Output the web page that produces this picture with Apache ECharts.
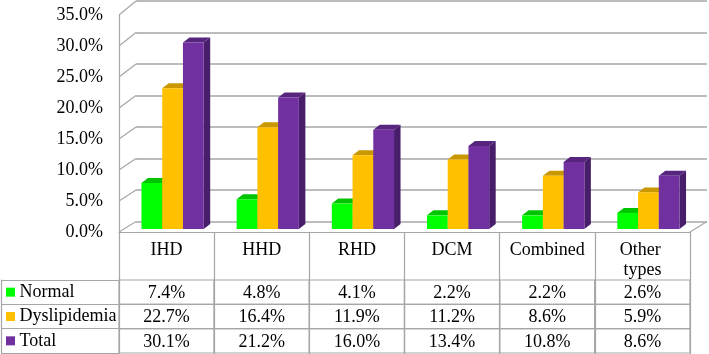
<!DOCTYPE html>
<html>
<head>
<meta charset="utf-8">
<script src="https://cdn.jsdelivr.net/npm/echarts@6/dist/echarts.min.js"></script>
<style>
html, body { margin: 0; padding: 0; background: #fff; }
#data_show { width: 709px; height: 354px; }
</style>
</head>
<body>
<div id="data_show"></div>
<script>
var categories = ['IHD', 'HHD', 'RHD', 'DCM', 'Combined', 'Other types'];
var row_names = ['Normal', 'Dyslipidemia', 'Total'];
var normal_data = [7.4, 4.8, 4.1, 2.2, 2.2, 2.6];
var dyslipidemia_data = [22.7, 16.4, 11.9, 11.2, 8.6, 5.9];
var total_data = [30.1, 21.2, 16.0, 13.4, 10.8, 8.6];
var y_min = 0, y_max = 35, y_step = 5;

var line_color = '#a6a6a6';
var font = 'Liberation Serif';
var font_size = 18;
// front / top / side colours of each series
var bar_colors = [
	['#00ff00', '#00c400', '#00ad00'],
	['#ffc000', '#c99700', '#a87e00'],
	['#7030a0', '#57247e', '#481d69']
];
var depth_x = 6.5, depth_y = -5;

var chart = echarts.init(document.getElementById('data_show'));

function make_bar_series(idx, values){
	var data = [];
	for(var i = 0; i < values.length; i++){
		data.push([i, values[i]]);
	}
	return {
		name: row_names[idx],
		type: 'custom',
		xAxisIndex: 1,
		yAxisIndex: 1,
		encode: {x: 0, y: 1},
		data: data,
		renderItem: function(params, api){
			var base = api.coord([api.value(0), 0]);
			var top = api.coord([api.value(0), api.value(1)]);
			var band = api.size([1, 0])[0];
			var w = band * 0.218;
			var x0 = base[0] + (idx - 1.5) * w;
			var c = bar_colors[idx];
			return {
				type: 'group',
				children: [
					{
						type: 'polygon',
						shape: {points: [[x0 + w, top[1]], [x0 + w + depth_x, top[1] + depth_y], [x0 + w + depth_x, base[1] + depth_y], [x0 + w, base[1]]]},
						style: {fill: c[2]}
					},
					{
						type: 'polygon',
						shape: {points: [[x0, top[1]], [x0 + w, top[1]], [x0 + w + depth_x, top[1] + depth_y], [x0 + depth_x, top[1] + depth_y]]},
						style: {fill: c[1]}
					},
					{
						type: 'rect',
						shape: {x: x0, y: top[1], width: w, height: base[1] - top[1]},
						style: {fill: c[0]}
					}
				]
			};
		}
	};
}

var table_data = [];
var all_rows = [normal_data, dyslipidemia_data, total_data];
for(var r = 0; r < all_rows.length; r++){
	for(var i = 0; i < categories.length; i++){
		table_data.push([i, r, all_rows[r][i]]);
	}
}

var option = {
	animation: false,
	grid: [
		{left: 119, right: 19, top: 15, bottom: 122},   // front edge, labels
		{left: 125, right: 13, top: 12, bottom: 125},   // bars
		{left: 136, right: 2, top: 1, bottom: 132.5},   // back wall
		{left: 119, right: 19, top: 280, bottom: 1}     // data table
	],
	xAxis: [
		{
			gridIndex: 0,
			type: 'category',
			data: categories,
			axisLine: {lineStyle: {color: line_color, width: 1.2}},
			axisTick: {show: true, length: 122, lineStyle: {color: line_color, width: 1.2}},
			axisLabel: {
				color: '#000', fontFamily: font, fontSize: font_size, lineHeight: 20,
				margin: 8, width: 78, overflow: 'break', interval: 0
			}
		},
		{gridIndex: 1, type: 'category', data: categories, show: false},
		{gridIndex: 2, type: 'category', data: categories, show: false},
		{gridIndex: 3, type: 'category', data: categories, show: false}
	],
	yAxis: [
		{
			gridIndex: 0,
			type: 'value',
			min: y_min, max: y_max, interval: y_step,
			axisLine: {show: true, lineStyle: {color: line_color, width: 1.2}},
			axisTick: {show: false},
			splitLine: {show: false},
			axisLabel: {
				color: '#000', fontFamily: font, fontSize: font_size, margin: 16,
				formatter: function(v){ return v.toFixed(1) + '%'; }
			}
		},
		{gridIndex: 1, type: 'value', min: y_min, max: y_max, show: false},
		{
			gridIndex: 2,
			type: 'value',
			min: y_min, max: y_max, interval: y_step,
			axisLine: {show: false},
			axisTick: {show: false},
			axisLabel: {show: false},
			splitLine: {show: true, lineStyle: {color: line_color, width: 1.5}}
		},
		{
			gridIndex: 3,
			type: 'category',
			data: row_names,
			inverse: true,
			position: 'left',
			offset: 118,
			axisLine: {show: true, lineStyle: {color: line_color, width: 1.2}},
			axisTick: {show: true, inside: true, length: 118, lineStyle: {color: line_color, width: 1.2}},
			axisLabel: {
				inside: true, margin: 5, color: '#000', fontFamily: font, fontSize: font_size,
				formatter: function(v, i){ return '{s' + i + '|} ' + v; },
				rich: {
					s0: {backgroundColor: bar_colors[0][0], width: 9, height: 9},
					s1: {backgroundColor: bar_colors[1][0], width: 9, height: 9},
					s2: {backgroundColor: bar_colors[2][0], width: 9, height: 9}
				}
			}
		}
	],
	series: [
		make_bar_series(0, normal_data),
		make_bar_series(1, dyslipidemia_data),
		make_bar_series(2, total_data),
		{
			name: 'table',
			type: 'custom',
			xAxisIndex: 3,
			yAxisIndex: 3,
			encode: {x: 0, y: 1},
			data: table_data,
			renderItem: function(params, api){
				var c = api.coord([api.value(0), api.value(1)]);
				var s = api.size([1, 1]);
				return {
					type: 'group',
					children: [
						{
							type: 'rect',
							shape: {x: c[0] - s[0] / 2, y: c[1] - s[1] / 2, width: s[0], height: s[1]},
							style: {fill: 'none', stroke: line_color, lineWidth: 1.2}
						},
						{
							type: 'text',
							x: c[0], y: c[1] + 1,
							style: {
								text: api.value(2).toFixed(1) + '%',
								fill: '#000', font: font_size + 'px "' + font + '"',
								align: 'center', verticalAlign: 'middle'
							}
						}
					]
				};
			}
		}
	]
};
chart.setOption(option);

// perspective lines joining the front edge to the back wall
function draw_depth_lines(){
	var lines = [];
	var ls = {stroke: line_color, lineWidth: 1.2};
	var x_front = chart.convertToPixel({gridIndex: 0}, [0, 0]);
	for(var v = y_min; v <= y_max; v += y_step){
		var yf = chart.convertToPixel({yAxisIndex: 0}, v);
		var yb = chart.convertToPixel({yAxisIndex: 2}, v);
		lines.push({type: 'line', shape: {x1: 119, y1: yf, x2: 136, y2: yb}, style: ls, silent: true});
	}
	var y0f = chart.convertToPixel({yAxisIndex: 0}, 0);
	var y0b = chart.convertToPixel({yAxisIndex: 2}, 0);
	lines.push({type: 'line', shape: {x1: 690, y1: y0f, x2: 707, y2: y0b}, style: ls, silent: true});
	chart.setOption({graphic: lines});
}
draw_depth_lines();
</script>
</body>
</html>
